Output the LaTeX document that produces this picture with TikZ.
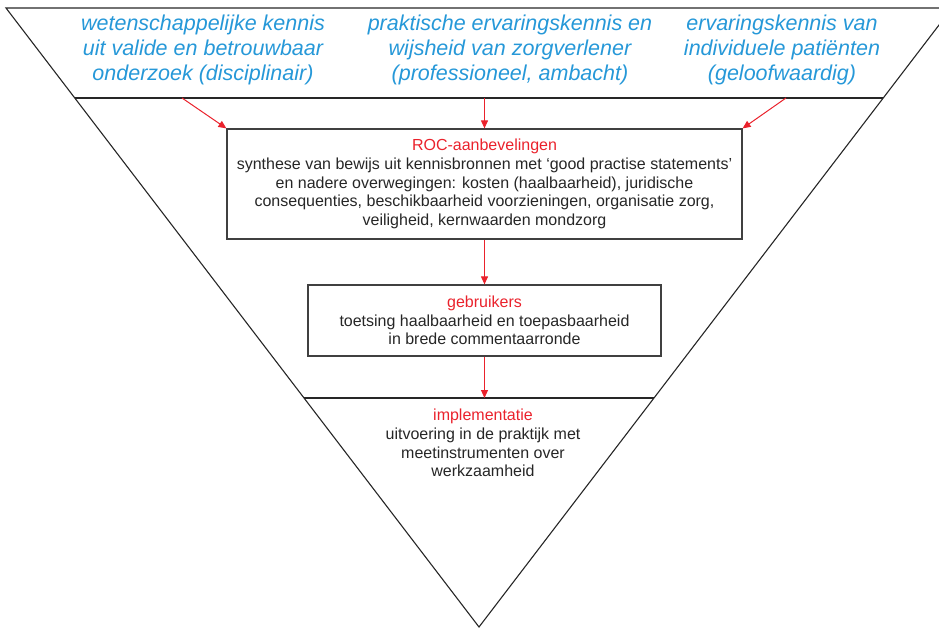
\documentclass[tikz,border=0pt]{standalone}
\usepackage{fontspec}
\setmainfont{Liberation Sans}
\usepackage{tikz}
\usetikzlibrary{calc}
\usetikzlibrary{arrows.meta}
\definecolor{bronblauw}{RGB}{38,152,216}
\definecolor{koprood}{RGB}{234,34,44}
\definecolor{tekstgrijs}{RGB}{38,38,38}
\tikzset{
  bron/.style={align=center, text=bronblauw, font=\fontsize{21.5}{25}\selectfont\itshape, inner sep=0pt},
  kader/.style={draw=black!75, line width=1.2pt, align=center, text=tekstgrijs, font=\fontsize{16}{18.7}\selectfont, inner sep=0pt},
  pijl/.style={draw=koprood, line width=1pt, -{Triangle[length=8pt,width=7pt,fill=koprood]}},
}
\newcommand{\bronnode}[4]{\node[bron] (#1) at ( #2 , #3 ) {#4};}
\newcommand{\kop}[1]{{\color{koprood}#1}}

\begin{document}
\begin{tikzpicture}[x=1pt,y=-1pt]
        \useasboundingbox (0,0) rectangle (939,628);
        %corners
        \coordinate (lb) at (6,8);
        \coordinate (rb) at (952,8);
        \coordinate (punt) at (479,627);
        %edges
        \draw[line width=1.1pt, black!85] (lb) -- (rb) -- (punt) -- cycle;
        %rows
        \coordinate (r1l) at ($(lb)!0.1454!(punt)$);
        \coordinate (r1r) at ($(rb)!0.1454!(punt)$);
        \coordinate (r2l) at ($(lb)!0.630!(punt)$);
        \coordinate (r2r) at ($(rb)!0.630!(punt)$);
        \draw[line width=1.1pt, black!85] (r1l) -- (r1r);
        \draw[line width=1.1pt, black!85] (r2l) -- (r2r);
        
        %sources
        \bronnode{bron1}{203}{50}{wetenschappelijke kennis\\uit valide en betrouwbaar\\onderzoek (disciplinair)}
        \bronnode{bron2}{510}{50}{praktische ervaringskennis en\\wijsheid van zorgverlener\\(professioneel, ambacht)}
        \bronnode{bron3}{782}{50}{ervaringskennis van\\individuele patiënten\\(geloofwaardig)}
        
        %boxes
        \node[kader, minimum width=515pt, minimum height=110pt] (roc) at (484.5,184) {\kop{ROC-aanbevelingen}\\synthese van bewijs uit kennisbronnen met ‘good practise statements’\\en nadere overwegingen: kosten (haalbaarheid), juridische\\consequenties, beschikbaarheid voorzieningen, organisatie zorg,\\veiligheid, kernwaarden mondzorg};
        \node[kader, minimum width=353pt, minimum height=71pt] (gebr) at (484.5,320.5) {\kop{gebruikers}\\toetsing haalbaarheid en toepasbaarheid\\in brede commentaarronde};
        \node[align=center, text=tekstgrijs, font=\fontsize{16}{18.7}\selectfont, inner sep=0pt] (impl) at (483,443) {\kop{implementatie}\\uitvoering in de praktijk met\\meetinstrumenten over\\werkzaamheid};
        
        %arrows
        \coordinate (p1) at (182,98);
        \coordinate (p2) at (484.5,98);
        \coordinate (p3) at (786,98);
        \coordinate (p4) at (484.5,398);
        \draw[pijl] (p1) -- (roc.north west);
        \draw[pijl] (p2) -- (roc.north);
        \draw[pijl] (p3) -- (roc.north east);
        \draw[pijl] (roc.south) -- (gebr.north);
        \draw[pijl] (gebr.south) -- (p4);
\end{tikzpicture}
\end{document}
